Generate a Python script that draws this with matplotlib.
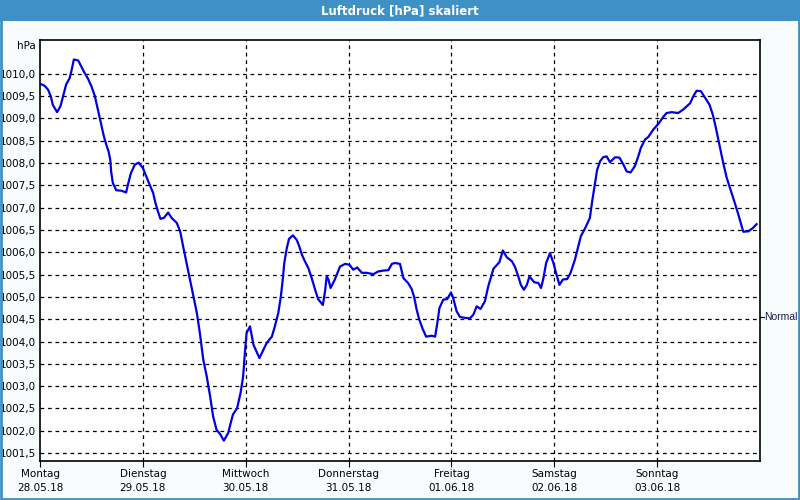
import matplotlib
matplotlib.use('Agg')
import matplotlib.pyplot as plt
from matplotlib.patches import Rectangle

# DATA (hours since Montag 28.05.18 00:00, pressure in hPa)
hours = [0.2, 1.1, 1.9, 2.5, 3.0, 4.0, 4.8, 5.6, 6.1, 6.9, 7.3, 7.9, 8.9, 9.6, 10.4,
         11.2, 12.0, 12.8, 13.5, 14.2, 14.9, 15.5, 16.0, 16.4, 16.6, 17.0, 17.8, 19.0,
         20.1, 20.5, 21.2, 22.1, 23.0, 24.0, 24.8, 25.6, 26.4, 26.9, 27.5, 28.1, 28.9,
         29.9, 30.7, 31.9, 32.7, 33.4, 34.2, 35.0, 35.8, 36.6, 37.3, 38.1, 38.9, 39.7,
         40.4, 41.2, 42.0, 42.9, 43.9, 45.0, 46.0, 46.8, 47.4, 47.8, 48.2, 49.0, 49.8,
         51.2, 52.9, 54.1, 54.8, 55.6, 56.2, 56.6, 57.0, 57.6, 58.1, 59.0, 59.9, 60.5,
         61.1, 61.8, 62.6, 63.4, 64.2, 64.9, 66.0, 66.5, 66.9, 67.3, 67.8, 68.8, 70.0,
         71.2, 72.2, 73.1, 74.0, 75.1, 76.2, 77.8, 78.9, 80.1, 81.3, 82.1, 82.8, 84.0,
         84.8, 85.9, 86.7, 87.3, 87.9, 88.5, 89.3, 90.1, 91.4, 92.2, 92.7, 93.2, 94.1,
         95.0, 95.9, 96.4, 97.2, 98.0, 99.2, 100.3, 101.1, 101.9, 102.8, 103.8, 104.6,
         105.8, 107.2, 108.0, 108.9, 110.1, 110.8, 111.6, 112.2, 112.9, 113.6, 114.2,
         115.3, 116.3, 116.9, 117.4, 118.1, 119.0, 119.8, 120.4, 121.2, 122.0, 123.0,
         123.8, 124.8, 125.6, 126.2, 127.2, 128.3, 128.9, 129.5, 130.0, 130.7, 131.4,
         132.2, 133.0, 134.2, 135.2, 136.1, 136.9, 137.8, 138.8, 139.6, 140.2, 141.2,
         141.9, 143.1, 144.3, 145.4, 146.2, 147.4, 148.9, 150.1, 150.9, 151.7, 152.4,
         153.2, 154.2, 155.2, 156.2, 157.0, 157.7, 158.5, 159.4, 160.2, 161.2, 162.2,
         162.9, 163.6, 164.1, 165.3, 166.3, 167.2]
pressure = [1009.77, 1009.73, 1009.64, 1009.5, 1009.3, 1009.14, 1009.28, 1009.58, 1009.76,
            1009.9, 1010.05, 1010.32, 1010.3, 1010.17, 1010.02, 1009.89, 1009.72, 1009.5,
            1009.2, 1008.9, 1008.6, 1008.4, 1008.26, 1008.07, 1007.81, 1007.55, 1007.39,
            1007.38, 1007.34, 1007.51, 1007.77, 1007.96, 1008.01, 1007.89, 1007.7, 1007.51,
            1007.33, 1007.12, 1006.92, 1006.75, 1006.77, 1006.89, 1006.77, 1006.66, 1006.47,
            1006.13, 1005.76, 1005.39, 1005.01, 1004.64, 1004.19, 1003.59, 1003.22, 1002.77,
            1002.32, 1002.02, 1001.93, 1001.78, 1001.95, 1002.36, 1002.51, 1002.85, 1003.22,
            1003.74, 1004.19, 1004.34, 1003.93, 1003.63, 1003.97, 1004.11, 1004.34, 1004.64,
            1005.01, 1005.35, 1005.76, 1006.1, 1006.3, 1006.38, 1006.28, 1006.13, 1005.95,
            1005.8, 1005.65, 1005.42, 1005.16, 1004.95, 1004.82, 1005.12, 1005.46, 1005.39,
            1005.2, 1005.39, 1005.68, 1005.74, 1005.72, 1005.61, 1005.66, 1005.54, 1005.54,
            1005.51, 1005.57, 1005.59, 1005.6, 1005.74, 1005.76, 1005.74, 1005.42, 1005.31,
            1005.18, 1005.0, 1004.71, 1004.49, 1004.28, 1004.11, 1004.13, 1004.11, 1004.41,
            1004.75, 1004.94, 1004.95, 1005.1, 1004.98, 1004.68, 1004.55, 1004.53, 1004.52,
            1004.6, 1004.79, 1004.73, 1004.9, 1005.24, 1005.63, 1005.78, 1006.04, 1005.89,
            1005.8, 1005.68, 1005.46, 1005.27, 1005.16, 1005.27, 1005.46, 1005.33, 1005.31,
            1005.2, 1005.39, 1005.76, 1005.98, 1005.76, 1005.54, 1005.27, 1005.39, 1005.4,
            1005.54, 1005.83, 1006.13, 1006.36, 1006.54, 1006.77, 1007.18, 1007.55, 1007.85,
            1008.04, 1008.13, 1008.15, 1008.02, 1008.13, 1008.12, 1007.97, 1007.81, 1007.79,
            1007.93, 1008.15, 1008.34, 1008.53, 1008.58, 1008.75, 1008.88, 1009.03, 1009.12,
            1009.14, 1009.12, 1009.2, 1009.27, 1009.34, 1009.49, 1009.62, 1009.61, 1009.46,
            1009.31, 1009.08, 1008.79, 1008.42, 1008.01, 1007.68, 1007.38, 1007.08, 1006.86,
            1006.63, 1006.46, 1006.47, 1006.54, 1006.63]

day_names = ['Montag', 'Dienstag', 'Mittwoch', 'Donnerstag', 'Freitag', 'Samstag', 'Sonntag']
day_dates = ['28.05.18', '29.05.18', '30.05.18', '31.05.18', '01.06.18', '02.06.18', '03.06.18']
y_ticks = [1001.5 + 0.5 * i for i in range(18)]
normal_value = 1004.56

# FIGURE AND WINDOW FRAME
fig = plt.figure(figsize=(8, 5), dpi=100, facecolor='#f9fcfd')
fig.patches.append(Rectangle((0, 0.958), 1, 0.042, transform=fig.transFigure,
                             facecolor='#3d91c4', edgecolor='none', zorder=0))
fig.patches.append(Rectangle((0.001, 0.002), 0.998, 0.99, transform=fig.transFigure,
                             facecolor='none', edgecolor='#3d91c4', linewidth=2, zorder=0))
fig.text(0.5, 0.979, 'Luftdruck [hPa] skaliert', color='white', fontsize=8.5,
         fontweight='bold', ha='center', va='center')

ax = fig.add_axes([0.05, 0.0786, 0.90, 0.8408])
ax.set_facecolor('white')
ax.plot(hours, pressure, color='#0000e0', linewidth=1.6, zorder=3)

# AXES
ax.set_xlim(0, 168)
ax.set_ylim(1001.33, 1010.75)
ax.set_yticks(y_ticks)
ax.set_yticklabels([f'{v:.1f}'.replace('.', ',') for v in y_ticks], fontsize=7.5)
ax.tick_params(axis='y', length=0, pad=3)
ax.set_xticks([24 * i for i in range(7)])
ax.set_xticklabels([f'{n}\n{d}' for n, d in zip(day_names, day_dates)], fontsize=7.5,
                   linespacing=1.5)
ax.tick_params(axis='x', length=4, pad=2, direction='out')
for s in ax.spines.values():
    s.set_linewidth(1.2)
    s.set_color('black')

# GRID
for v in y_ticks:
    ax.axhline(v, color='black', linestyle=(0, (3, 3)), linewidth=0.9, zorder=1)
for i in range(1, 7):
    ax.axvline(24 * i, color='black', linestyle=(0, (3, 3)), linewidth=0.9, zorder=1)

# LABELS
ax.text(-0.006, 0.986, 'hPa', transform=ax.transAxes, fontsize=7.5, ha='right', va='center')
ax.plot([168, 168.9], [normal_value, normal_value], color='black', linewidth=0.8,
        clip_on=False)
ax.text(169.0, normal_value, 'Normal', fontsize=7.5, family='Liberation Sans',
        ha='left', va='center', color='#1a1a50')

fig.savefig('out.png', dpi=100, facecolor=fig.get_facecolor())
